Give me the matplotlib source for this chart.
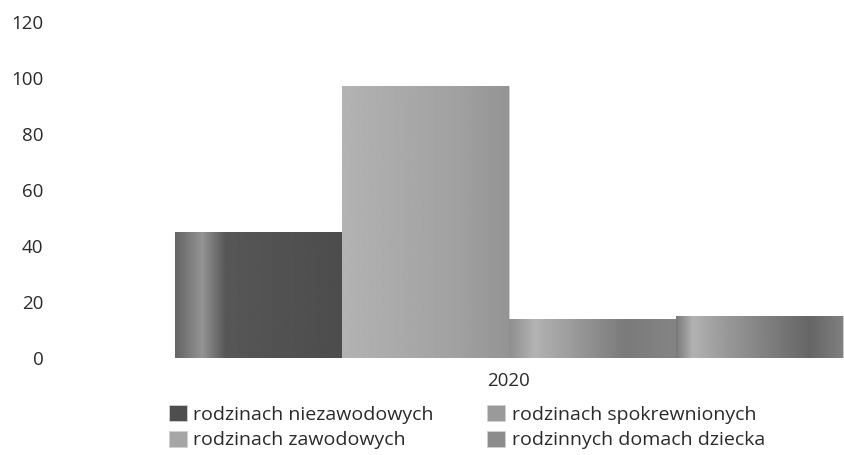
import matplotlib.pyplot as plt
import numpy as np

plt.rcParams['font.family'] = ['Open Sans', 'DejaVu Sans']

# data
years = ['2020']
series = ['rodzinach niezawodowych', 'rodzinach zawodowych',
          'rodzinach spokrewnionych', 'rodzinnych domach dziecka']
values = [45, 97, 14, 15]
colors = ['#4e4e4e', '#a6a6a6', '#9a9a9a', '#8c8c8c']

# horizontal shading of the scanned bars (position across bar, grey level)
shade_pos = [[0, 0.06, 0.16, 0.3, 1.0],
             [0, 0.2, 0.7, 1.0],
             [0, 0.15, 0.7, 1.0],
             [0, 0.1, 0.25, 0.8, 1.0]]
shade_val = [[0.40, 0.46, 0.58, 0.34, 0.30],
             [0.70, 0.68, 0.63, 0.58],
             [0.56, 0.70, 0.48, 0.52],
             [0.48, 0.70, 0.62, 0.40, 0.50]]

fig = plt.figure(figsize=(8.44, 4.55), dpi=100)
ax = fig.add_axes([60 / 844, 1 - 358 / 455, 784 / 844, 336 / 455])

width = 0.2
offsets = (np.arange(len(series)) - 1.5) * width
handles = []
for i, (off, val, col, name) in enumerate(zip(offsets, values, colors, series)):
    b = ax.bar(0 + off, val, width=width, color=col, label=name,
               edgecolor='#d0d0d0', linewidth=0.6)
    handles.append(b)
    rect = b.patches[0]
    x0, w, h = rect.get_x(), rect.get_width(), rect.get_height()
    grad = np.interp(np.linspace(0, 1, 200), shade_pos[i], shade_val[i])
    im = ax.imshow(grad[None, :], extent=[x0, x0 + w, 0, h], cmap='gray',
                   vmin=0, vmax=1, aspect='auto', zorder=2)
    im.set_clip_path(rect)

ax.set_xlim(-0.4 - 115 / 835, 0.4 + 1 / 835)
ax.set_ylim(0, 120)
ax.set_yticks(range(0, 121, 20))
ax.set_xticks([0])
ax.set_xticklabels(years)
ax.tick_params(axis='both', length=0, labelsize=13.5, colors='#2a2a2a')
ax.tick_params(axis='y', pad=12)
ax.tick_params(axis='x', pad=10)
for s in ax.spines.values():
    s.set_visible(False)

fig.legend(handles=handles, labels=series, ncol=2, frameon=False,
           loc='upper left', bbox_to_anchor=(169 / 844, 1 - 405 / 455),
           fontsize=14, handlelength=0.9, handleheight=0.9,
           handletextpad=0.35, columnspacing=2.75, labelspacing=0.35,
           borderaxespad=0, borderpad=0, labelcolor='#2a2a2a')

fig.savefig('out.png', dpi=100)
